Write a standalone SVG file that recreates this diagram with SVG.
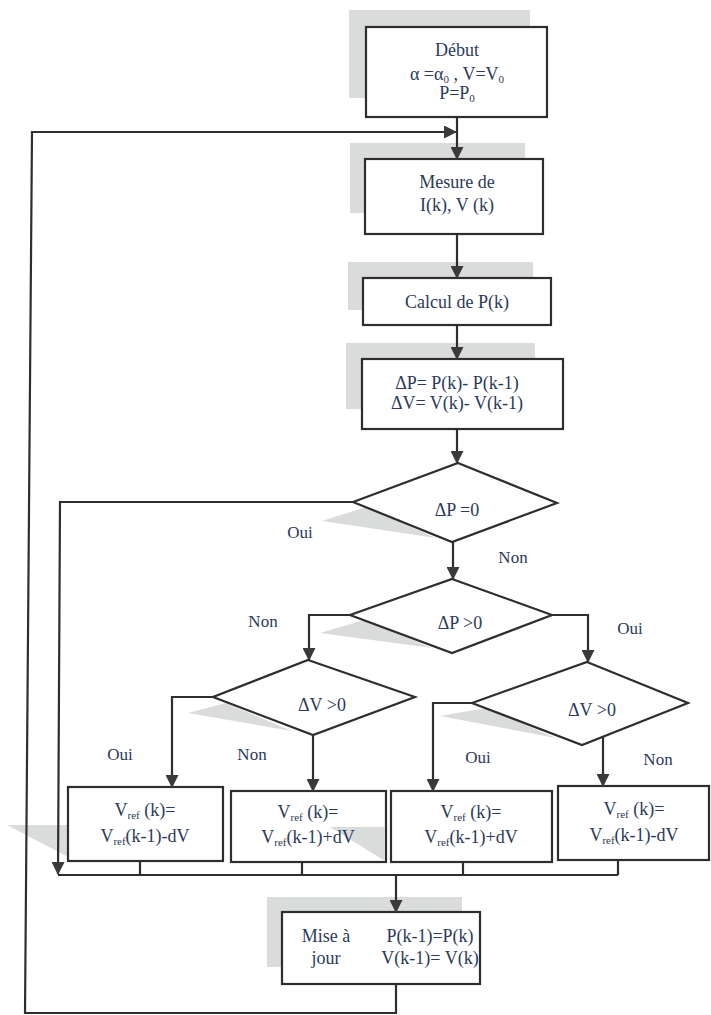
<svg xmlns="http://www.w3.org/2000/svg" width="711" height="1015" viewBox="0 0 711 1015">
<defs>
<style>
.bx{fill:#fff;stroke:#2e2e2e;stroke-width:2.2}
.sh{fill:#d9dcdb;stroke:none}
.ln{fill:none;stroke:#2e2e2e;stroke-width:2.2}
.t{font-family:"Liberation Serif","Times New Roman",serif;font-size:18px;fill:#2b3a5a;text-anchor:middle}
.lb{font-family:"Liberation Serif","Times New Roman",serif;font-size:17px;fill:#2b3a5a;text-anchor:middle}
.sub{font-size:11px}
</style>
<marker id="ar" markerWidth="13" markerHeight="13" viewBox="0 0 13 13" refX="12" refY="6.5" orient="auto" markerUnits="userSpaceOnUse">
<path d="M0,0 L13,6.5 L0,13 Z" fill="#3a3a3a"/>
</marker>
</defs>
<rect width="711" height="1015" fill="#fff"/>

<g id="start">
<rect class="sh" x="349" y="10" width="181" height="88"/>
<rect class="bx" x="366" y="27" width="181" height="90"/>
<text class="t" x="457" y="56">Début</text>
<text class="t" x="457" y="80">α =α<tspan class="sub" dy="3">0</tspan><tspan dy="-3"> , V=V</tspan><tspan class="sub" dy="3">0</tspan></text>
<text class="t" x="457" y="99">P=P<tspan class="sub" dy="3">0</tspan></text>
</g>

<g id="mesure">
<rect class="sh" x="350" y="143" width="175" height="70"/>
<rect class="bx" x="365" y="159" width="178" height="75"/>
<text class="t" x="457" y="188">Mesure de</text>
<text class="t" x="457" y="211">I(k), V (k)</text>
</g>

<g id="calcul">
<rect class="sh" x="348" y="262" width="185" height="48"/>
<rect class="bx" x="363" y="278" width="188" height="47"/>
<text class="t" x="457" y="308">Calcul de P(k)</text>
</g>

<g id="delta">
<rect class="sh" x="346" y="343" width="189" height="66"/>
<rect class="bx" x="362" y="359" width="201" height="70"/>
<text class="t" x="457" y="389">ΔP= P(k)- P(k-1)</text>
<text class="t" x="457" y="409">ΔV= V(k)- V(k-1)</text>
</g>

<g id="dp0">
<polygon class="sh" points="322,521 366,507 436,538"/>
<polygon class="bx" points="458,463 557,503 452,542 353,502"/>
<text class="t" x="457" y="516">ΔP =0</text>
<text class="lb" x="300" y="538">Oui</text>
<text class="lb" x="513" y="563">Non</text>
</g>

<g id="dpgt">
<polygon class="sh" points="320,633 364,620 432,648"/>
<polygon class="bx" points="452,579 552,615 452,653 350,615"/>
<text class="t" x="460" y="629">ΔP &gt;0</text>
<text class="lb" x="263" y="627">Non</text>
<text class="lb" x="630" y="634">Oui</text>
</g>

<g id="dvgt-left">
<polygon class="sh" points="188,713 226,703 292,731"/>
<polygon class="bx" points="308,660 415,697 313,735 213,697"/>
<text class="t" x="322" y="711">ΔV &gt;0</text>
<text class="lb" x="120" y="760">Oui</text>
<text class="lb" x="252" y="760">Non</text>
</g>

<g id="dvgt-right">
<polygon class="sh" points="440,716 486,708 556,738"/>
<polygon class="bx" points="587,662 688,703 582,745 472,703"/>
<text class="t" x="592" y="716">ΔV &gt;0</text>
<text class="lb" x="478" y="763">Oui</text>
<text class="lb" x="658" y="765">Non</text>
</g>

<g id="vref1">
<polygon class="sh" points="7,825 68,825 68,857"/>
<rect class="bx" x="68" y="787" width="155" height="74"/>
<text class="t" x="145" y="816">V<tspan class="sub" dy="3">ref</tspan><tspan dy="-3"> (k)=</tspan></text>
<text class="t" x="145" y="842">V<tspan class="sub" dy="3">ref</tspan><tspan dy="-3">(k-1)-dV</tspan></text>
</g>

<g id="vref2">
<rect class="bx" x="231" y="791" width="155" height="71"/>
<polygon class="sh" points="330,827 385,827 385,861"/>
<text class="t" x="308" y="818">V<tspan class="sub" dy="3">ref</tspan><tspan dy="-3"> (k)=</tspan></text>
<text class="t" x="308" y="843">V<tspan class="sub" dy="3">ref</tspan><tspan dy="-3">(k-1)+dV</tspan></text>
</g>

<g id="vref3">
<rect class="bx" x="391" y="791" width="161" height="71"/>
<text class="t" x="471" y="818">V<tspan class="sub" dy="3">ref</tspan><tspan dy="-3"> (k)=</tspan></text>
<text class="t" x="471" y="843">V<tspan class="sub" dy="3">ref</tspan><tspan dy="-3">(k-1)+dV</tspan></text>
</g>

<g id="vref4">
<rect class="bx" x="558" y="786" width="151" height="74"/>
<text class="t" x="634" y="815">V<tspan class="sub" dy="3">ref</tspan><tspan dy="-3"> (k)=</tspan></text>
<text class="t" x="634" y="841">V<tspan class="sub" dy="3">ref</tspan><tspan dy="-3">(k-1)-dV</tspan></text>
</g>

<g id="mise">
<rect class="sh" x="267" y="897" width="195" height="70"/>
<rect class="bx" x="282" y="912" width="198" height="72"/>
<text class="t" x="326" y="942">Mise à</text>
<text class="t" x="326" y="964">jour</text>
<text class="t" x="430" y="942">P(k-1)=P(k)</text>
<text class="t" x="430" y="964">V(k-1)= V(k)</text>
</g>

<g id="connectors">
<polyline class="ln" points="396,984 396,1013 25,1013 32,132 456,132" marker-end="url(#ar)"/>
<line class="ln" x1="457" y1="117" x2="457" y2="159" marker-end="url(#ar)"/>
<line class="ln" x1="457" y1="234" x2="457" y2="278" marker-end="url(#ar)"/>
<line class="ln" x1="457" y1="325" x2="457" y2="359" marker-end="url(#ar)"/>
<line class="ln" x1="457" y1="429" x2="457" y2="463" marker-end="url(#ar)"/>
<line class="ln" x1="453" y1="542" x2="453" y2="579" marker-end="url(#ar)"/>
<polyline class="ln" points="353,502 60,502 58,874" marker-end="url(#ar)"/>
<polyline class="ln" points="350,615 309,615 309,660" marker-end="url(#ar)"/>
<polyline class="ln" points="552,615 588,615 588,662" marker-end="url(#ar)"/>
<polyline class="ln" points="213,697 172,697 172,787" marker-end="url(#ar)"/>
<line class="ln" x1="313" y1="735" x2="313" y2="791" marker-end="url(#ar)"/>
<polyline class="ln" points="472,703 433,703 433,791" marker-end="url(#ar)"/>
<line class="ln" x1="603" y1="737" x2="603" y2="786" marker-end="url(#ar)"/>
<polyline class="ln" points="58,875 618,875"/>
<line class="ln" x1="140" y1="861" x2="140" y2="875"/>
<line class="ln" x1="302" y1="862" x2="302" y2="875"/>
<line class="ln" x1="463" y1="862" x2="463" y2="875"/>
<line class="ln" x1="618" y1="860" x2="618" y2="875"/>
<line class="ln" x1="396" y1="875" x2="396" y2="912" marker-end="url(#ar)"/>
</g>
</svg>
